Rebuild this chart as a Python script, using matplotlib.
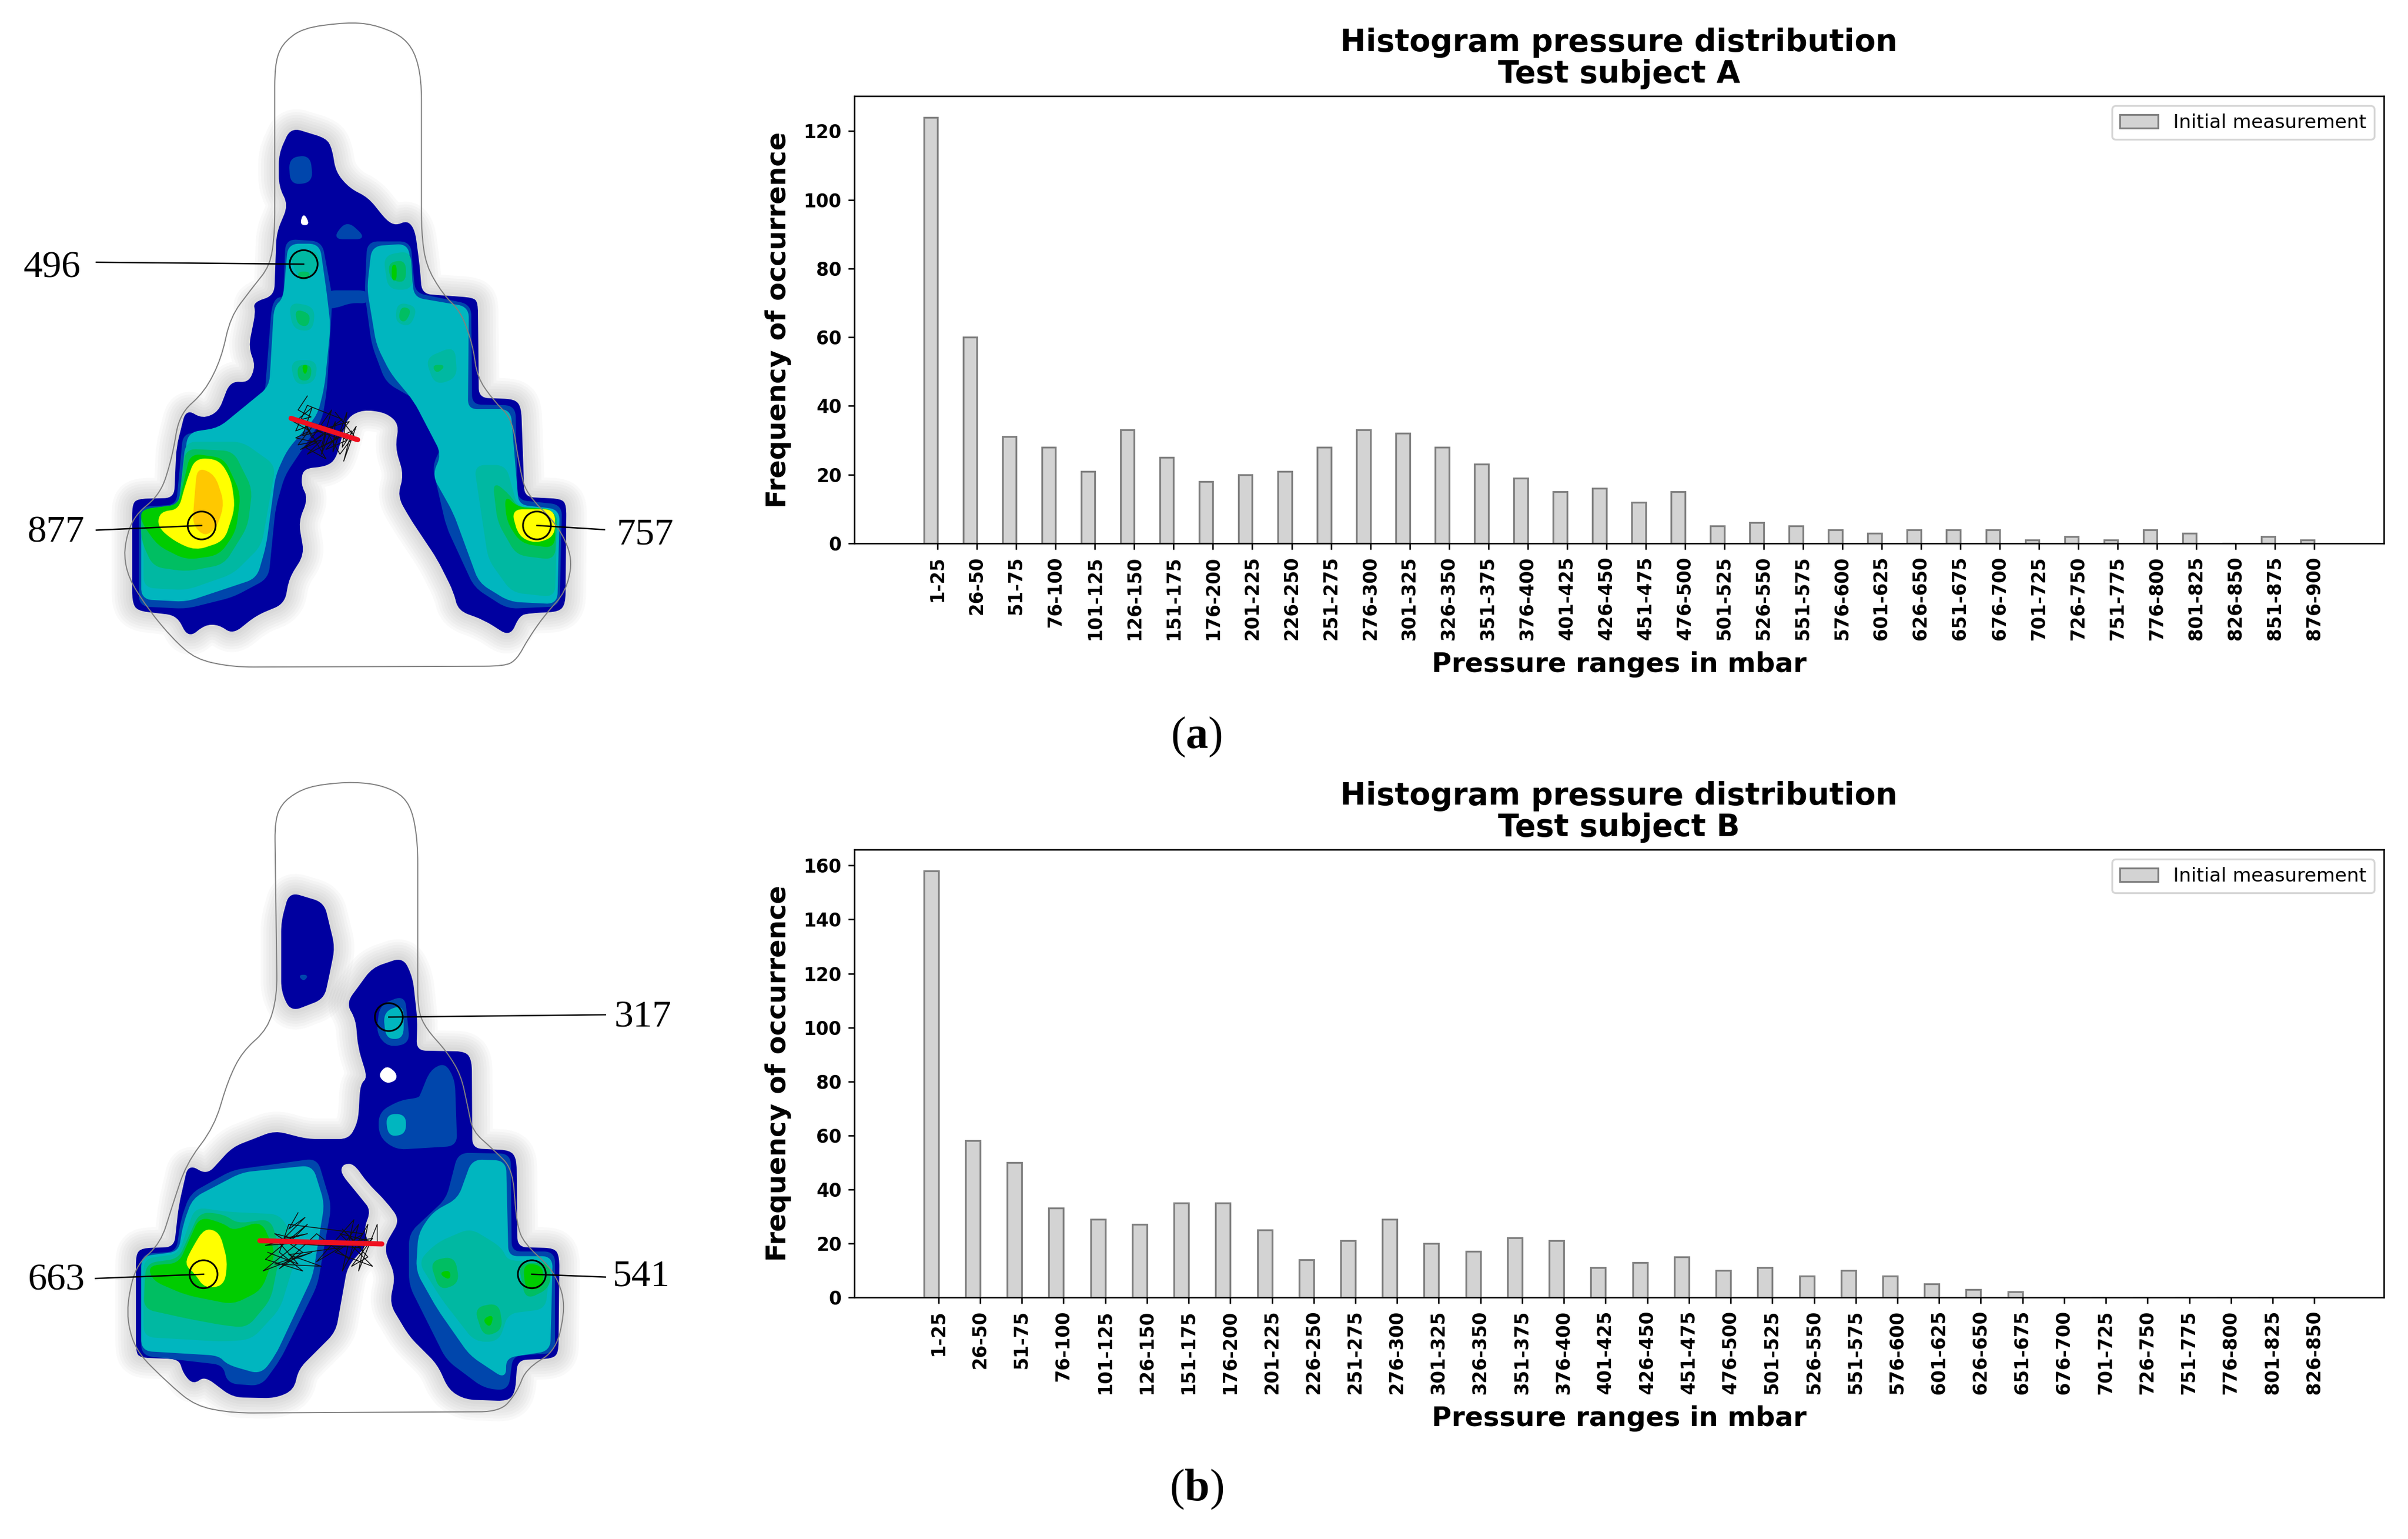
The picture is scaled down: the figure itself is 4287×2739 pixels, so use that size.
import matplotlib
matplotlib.use('Agg')
import matplotlib.pyplot as plt
from matplotlib.patches import PathPatch, Circle
from matplotlib.path import Path
from math import hypot

# histogram data
labels_a = ['1-25', '26-50', '51-75', '76-100', '101-125', '126-150', '151-175', '176-200', '201-225',
            '226-250', '251-275', '276-300', '301-325', '326-350', '351-375', '376-400', '401-425',
            '426-450', '451-475', '476-500', '501-525', '526-550', '551-575', '576-600', '601-625',
            '626-650', '651-675', '676-700', '701-725', '726-750', '751-775', '776-800', '801-825',
            '826-850', '851-875', '876-900']
counts_a = [124, 60, 31, 28, 21, 33, 25, 18, 20, 21, 28, 33, 32, 28, 23, 19, 15, 16, 12, 15, 5, 6, 5, 4, 3,
            4, 4, 4, 1, 2, 1, 4, 3, 0, 2, 1]
labels_b = labels_a[:34]
counts_b = [158, 58, 50, 33, 29, 27, 35, 35, 25, 14, 21, 29, 20, 17, 22, 21, 11, 13, 15, 10, 11, 8, 10, 8, 5,
            3, 2, 0, 0, 0, 0, 0, 0, 0]

# pressure map colours, low to high
DARK = '#0000a0'
BLUE = '#0046ac'
TEAL = '#00b6bf'
TEAL2 = '#00b8a2'
GREEN1 = '#00be62'
GREEN2 = '#00cc00'
YELLOW = '#ffff00'
ORANGE = '#ffc800'

# map A shapes, in crop coordinates
outline_a = [(745, 48), (800, 52), (860, 75), (890, 110), (905, 170), (905, 500), (915, 570), (950, 630),
             (990, 670), (1015, 740), (1025, 810), (1060, 860), (1100, 900), (1115, 1000), (1130, 1060),
             (1200, 1130), (1230, 1200), (1215, 1270), (1170, 1320), (1135, 1370), (1110, 1415), (1085, 1430),
             (500, 1432), (420, 1415), (370, 1370), (320, 1310), (275, 1240), (265, 1180), (285, 1110),
             (345, 1060), (370, 980), (385, 890), (440, 840), (475, 770), (495, 680), (540, 620), (580, 570),
             (590, 500), (590, 140), (605, 95), (650, 60)]
dark_a = [(625, 275), (700, 298), (712, 320), (720, 370), (750, 405), (790, 425), (830, 475), (850, 485),
          (875, 475), (890, 495), (900, 570), (905, 632), (1015, 640), (1025, 650), (1027, 855), (1105, 858),
          (1118, 875), (1125, 1068), (1205, 1072), (1215, 1085), (1213, 1295), (1200, 1312), (1140, 1315),
          (1115, 1320), (1095, 1365), (1040, 1330), (985, 1310), (975, 1270), (940, 1200), (880, 1110),
          (855, 1065), (868, 1020), (850, 960), (858, 910), (830, 885), (780, 878), (745, 895), (720, 985),
          (700, 1000), (650, 1005), (645, 1040), (660, 1070), (640, 1120), (652, 1190), (620, 1240), (610, 1295),
          (550, 1320), (500, 1360), (470, 1340), (440, 1340), (405, 1368), (380, 1320), (295, 1310), (285, 1290),
          (285, 1085), (295, 1072), (375, 1070), (380, 960), (400, 880), (435, 900), (470, 885), (495, 820),
          (535, 822), (550, 785), (535, 745), (550, 670), (545, 650), (590, 635), (595, 500), (620, 440),
          (600, 400), (600, 330)]
holes_a = [[(652, 458), (664, 482), (645, 482)]]
blue_a = [[(615, 515), (690, 520), (705, 600), (712, 640), (700, 840), (690, 900), (640, 975), (610, 1020),
           (590, 1090), (575, 1240), (500, 1280), (400, 1305), (300, 1300), (300, 1090), (380, 1085), (395, 930),
           (460, 935), (570, 850), (585, 660), (595, 640), (610, 640)],
          [(790, 520), (880, 520), (890, 630), (1010, 655), (1012, 870), (1105, 872), (1110, 1075), (1205, 1085),
           (1200, 1300), (1090, 1305), (1020, 1260), (960, 1130), (930, 1000), (950, 960), (900, 860), (830, 820),
           (800, 740), (785, 630)],
          [(700, 625), (790, 625), (790, 650), (755, 648), (720, 660), (700, 660)],
          [(622, 340), (665, 335), (670, 390), (625, 395)],
          [(716, 512), (745, 475), (785, 512)]]
teal_a = [[(620, 525), (685, 525), (700, 630), (708, 700), (695, 830), (680, 890), (615, 965), (590, 1020),
           (570, 1170), (550, 1240), (400, 1290), (305, 1285), (305, 1100), (385, 1090), (405, 930), (470, 920),
           (580, 830), (590, 660), (610, 640)],
          [(800, 530), (875, 525), (888, 640), (1005, 660), (1003, 880), (1095, 880), (1112, 1085), (1200, 1095),
           (1195, 1295), (1095, 1290), (1030, 1250), (975, 1100), (930, 1020), (950, 975), (890, 860), (840, 800),
           (810, 740), (790, 620)]]
teal2_a = [[(400, 950), (520, 950), (590, 1000), (560, 1170), (500, 1230), (400, 1265), (310, 1260), (310, 1100), (385, 1090)],
           [(1020, 1000), (1085, 1000), (1110, 1090), (1195, 1100), (1190, 1280), (1100, 1270), (1050, 1200)],
           [(622, 540), (685, 540), (680, 590), (640, 595)],
           [(622, 650), (675, 660), (670, 710), (630, 705)],
           [(625, 775), (680, 775), (675, 820), (635, 825)],
           [(825, 550), (880, 540), (885, 620), (835, 620)],
           [(855, 650), (895, 660), (880, 700), (850, 690)],
           [(915, 770), (975, 745), (980, 810), (935, 825)]]
green1_a = [[(400, 965), (500, 970), (540, 1050), (530, 1130), (480, 1210), (400, 1225), (330, 1215), (305, 1160), (305, 1095), (385, 1085)],
            [(1060, 1035), (1095, 1065), (1110, 1090), (1195, 1100), (1190, 1200), (1110, 1190), (1070, 1120)],
            [(640, 585), (665, 585), (660, 598), (645, 598)],
            [(635, 665), (665, 675), (660, 700), (640, 695)],
            [(640, 785), (668, 785), (665, 815), (642, 815)],
            [(835, 565), (870, 560), (870, 605), (840, 600)],
            [(862, 660), (882, 665), (870, 690), (858, 685)],
            [(930, 785), (955, 785), (938, 800)]]
green2_a = [[(410, 975), (480, 985), (515, 1060), (505, 1140), (470, 1190), (400, 1200), (340, 1170), (305, 1120), (305, 1095), (385, 1085)],
            [(1085, 1065), (1110, 1090), (1190, 1095), (1190, 1175), (1120, 1165), (1090, 1120)],
            [(843, 570), (850, 570), (850, 600), (843, 600)],
            [(650, 785), (660, 785), (655, 805)]]
yellow_a = [[(420, 985), (470, 988), (495, 1030), (503, 1090), (480, 1160), (420, 1180), (375, 1160), (340, 1130), (345, 1100), (385, 1095), (400, 1040)],
            [(1100, 1095), (1190, 1095), (1190, 1150), (1150, 1165), (1115, 1150)]]
orange_a = [[(425, 1005), (460, 1020), (480, 1080), (465, 1130), (440, 1150), (415, 1125), (420, 1060)]]
track_a = [(660, 850), (640, 880), (668, 895), (630, 905), (665, 925), (635, 940), (680, 950), (645, 965), (700, 930),
           (690, 975), (720, 905), (715, 970), (745, 885), (735, 960), (765, 915), (738, 990), (755, 925), (690, 960),
           (712, 880), (670, 940), (650, 900), (700, 985), (655, 960), (735, 900), (660, 870), (635, 925), (675, 910),
           (640, 955), (690, 945), (660, 975), (725, 940), (680, 925), (750, 905), (700, 965), (745, 945), (710, 920),
           (650, 935), (670, 875), (640, 900), (695, 915), (730, 975), (760, 935), (720, 885)]
red_a = [(625, 898), (768, 944)]

# map B shapes, in crop coordinates
outline_b = [(745, 50), (810, 55), (860, 75), (885, 110), (897, 180), (897, 540), (915, 580), (960, 630), (990, 680),
             (1005, 750), (1015, 800), (1060, 840), (1100, 880), (1110, 1000), (1125, 1040), (1190, 1100), (1215, 1170),
             (1195, 1270), (1130, 1310), (1110, 1360), (1075, 1402), (500, 1405), (420, 1390), (360, 1340), (290, 1270),
             (270, 1190), (290, 1090), (345, 1040), (370, 960), (400, 870), (460, 790), (490, 690), (520, 630), (575, 580),
             (595, 510), (590, 130), (610, 90), (660, 60)]
dark_b1 = [(622, 288), (695, 310), (718, 405), (705, 470), (695, 515), (625, 542), (605, 500), (605, 350)]
dark_b2 = [(865, 428), (885, 470), (895, 560), (893, 628), (1000, 630), (1012, 650), (1013, 838), (1095, 842), (1108, 860),
           (1110, 1050), (1190, 1052), (1200, 1070), (1198, 1275), (1185, 1287), (1110, 1290), (1105, 1360), (1090, 1378),
           (1000, 1375), (965, 1355), (940, 1300), (880, 1240), (838, 1170), (850, 1110), (825, 1050), (860, 990), (830, 950),
           (790, 910), (760, 868), (735, 870), (730, 890), (775, 945), (795, 970), (780, 1010), (790, 1040), (745, 1090),
           (720, 1230), (640, 1310), (630, 1355), (590, 1372), (500, 1370), (440, 1325), (415, 1342), (395, 1320), (385, 1288),
           (300, 1285), (293, 1270), (293, 1065), (305, 1052), (375, 1050), (385, 960), (405, 872), (445, 895), (500, 835),
           (590, 800), (660, 818), (750, 818), (770, 780), (775, 700), (790, 685), (770, 620), (765, 560), (745, 525), (800, 450)]
holes_b = [[(830, 660), (850, 675), (850, 690), (830, 697), (813, 680)]]
blue_b = [[(817, 530), (868, 510), (878, 610), (835, 618), (810, 590)],
          [(905, 720), (925, 670), (955, 655), (975, 690), (980, 830), (850, 838), (815, 810), (815, 760), (860, 735), (900, 730)],
          [(410, 935), (500, 885), (680, 860), (710, 960), (680, 1130), (600, 1290), (560, 1345), (490, 1340), (480, 1300), (305, 1280), (305, 1065), (380, 1060), (390, 990)],
          [(985, 848), (1095, 850), (1097, 1060), (1190, 1060), (1190, 1275), (1100, 1280), (1090, 1355), (1040, 1350), (960, 1290), (880, 1130), (880, 1020), (960, 945)],
          [(643, 466), (660, 466), (652, 476)]]
teal_b = [[(825, 545), (865, 530), (865, 600), (830, 600)],
          [(830, 765), (870, 765), (870, 805), (835, 810)],
          [(415, 945), (520, 890), (670, 875), (695, 955), (670, 1110), (590, 1280), (560, 1320), (490, 1300), (470, 1280), (305, 1270), (305, 1070), (385, 1060), (395, 1000)],
          [(1015, 862), (1085, 865), (1090, 1070), (1185, 1070), (1180, 1270), (1085, 1285), (1085, 1330), (1010, 1280), (940, 1180), (895, 1100), (900, 1020), (930, 975), (985, 945)]]
teal2_b = [[(420, 965), (490, 975), (600, 980), (640, 1050), (600, 1180), (540, 1245), (480, 1250), (310, 1240), (310, 1075), (385, 1065)],
           [(940, 1040), (1010, 1010), (1075, 1050), (1090, 1080), (1180, 1080), (1170, 1180), (1090, 1190), (1070, 1250), (1020, 1250), (950, 1160), (900, 1080)]]
green1_b = [[(430, 975), (480, 980), (510, 1000), (580, 990), (600, 1060), (580, 1160), (530, 1220), (480, 1215), (400, 1200), (310, 1180), (315, 1085), (385, 1075)],
            [(925, 1080), (975, 1070), (985, 1125), (945, 1140)],
            [(1020, 1180), (1070, 1170), (1078, 1225), (1040, 1240)],
            [(1115, 1085), (1180, 1085), (1180, 1135), (1130, 1160)]]
green2_b = [[(430, 985), (480, 1000), (500, 1015), (560, 995), (590, 1060), (560, 1140), (500, 1170), (400, 1150), (330, 1120), (320, 1090), (385, 1085)],
            [(1125, 1085), (1165, 1090), (1165, 1135), (1130, 1140)],
            [(945, 1105), (965, 1100), (965, 1118)],
            [(1038, 1205), (1058, 1195), (1052, 1220)]]
yellow_b = [[(440, 1010), (470, 1018), (487, 1080), (480, 1130), (440, 1135), (420, 1105), (398, 1085), (415, 1050)]]
track_b = [(640, 975), (620, 1010), (655, 985), (610, 1030), (660, 1020), (570, 1045), (640, 1040), (565, 1100), (670, 1060),
           (590, 1085), (690, 1090), (620, 1065), (730, 1050), (680, 1080), (760, 990), (735, 1100), (790, 1000), (770, 1100),
           (810, 1000), (810, 1040), (730, 1020), (800, 1090), (720, 1060), (780, 1020), (620, 1000), (600, 1060), (650, 1100),
           (570, 1075), (660, 1000), (630, 1030), (590, 1020), (650, 1060), (600, 1095), (680, 1020), (750, 1075), (770, 1000),
           (740, 1040), (800, 1030), (755, 1090), (790, 1070), (735, 1010), (775, 1050), (600, 1040), (640, 1085), (575, 1060)]
red_b = [(558, 1035), (820, 1042)]

# callouts: value, text position, circle centre, leader end
callouts_a = [('496', (112, 575), (652, 567), (207, 563)),
              ('877', (120, 1144), (433, 1128), (207, 1138)),
              ('757', (1385, 1148), (1153, 1128), (1298, 1137))]
callouts_b = [('317', (1380, 556), (835, 555), (1300, 550)),
              ('663', (120, 1121), (437, 1107), (205, 1116)),
              ('541', (1378, 1112), (1142, 1107), (1300, 1113))]

W, H, DPI = 4287, 2739, 234
plt.rcParams['mathtext.fontset'] = 'custom'
plt.rcParams['mathtext.rm'] = 'Liberation Serif'
plt.rcParams['mathtext.bf'] = 'Liberation Serif:bold'


def px(v):
    # pixels to points
    return v * 72 / DPI


def rounded(poly, r=22):
    # closed path with the corners cut by quadratic curves of about radius r
    verts = []
    codes = []
    n = len(poly)
    for i in range(n):
        vx, vy = poly[i]
        ax_, ay_ = poly[i - 1]
        bx_, by_ = poly[(i + 1) % n]
        fa = min(0.45, r / max(hypot(ax_ - vx, ay_ - vy), 1))
        fb = min(0.45, r / max(hypot(bx_ - vx, by_ - vy), 1))
        verts.append((vx + (ax_ - vx) * fa, vy + (ay_ - vy) * fa))
        codes.append(Path.MOVETO if i == 0 else Path.LINETO)
        verts += [(vx, vy), (vx + (bx_ - vx) * fb, vy + (by_ - vy) * fb)]
        codes += [Path.CURVE3, Path.CURVE3]
    verts.append(verts[0])
    codes.append(Path.CLOSEPOLY)
    return Path(verts, codes)


def draw_map(y0, outline, outer, layers, holes, track, red, callouts):
    ax = fig.add_axes([0, 1 - (y0 + 1300) / H, 1300 / W, 1300 / H])
    ax.set_xlim(0, 1568)
    ax.set_ylim(1568, 0)
    ax.axis('off')
    # soft grey halo around the sensor area
    for lw in [75, 65, 55, 45, 35, 25, 15]:
        for poly in outer:
            ax.add_patch(PathPatch(rounded(poly), fill=False, edgecolor='#707070', alpha=0.04,
                                   lw=px(lw), joinstyle='round'))
    for poly in outer:
        ax.add_patch(PathPatch(rounded(poly), fc=DARK, ec=DARK, lw=px(2), joinstyle='round'))
    for poly in holes:
        ax.add_patch(PathPatch(rounded(poly), fc='white', ec='white', lw=px(2), joinstyle='round'))
    for color, polys in layers:
        for poly in polys:
            ax.add_patch(PathPatch(rounded(poly), fc=color, ec=color, lw=px(3), joinstyle='round'))
    ax.add_patch(PathPatch(rounded(outline, 45), fill=False, edgecolor='#808080', lw=px(2)))
    ax.plot(*zip(*track), color='#101010', lw=px(1.5), zorder=5)
    ax.plot(*zip(*red), color='#f01020', lw=px(9), solid_capstyle='round', zorder=6)
    for value, text_pos, centre, leader in callouts:
        ax.plot([leader[0], centre[0]], [leader[1], centre[1]], color='black', lw=px(2.5), zorder=7)
        ax.add_patch(Circle(centre, 30, fill=False, edgecolor='black', lw=px(3), zorder=7))
        ax.text(text_pos[0], text_pos[1], value, family='Liberation Serif', fontsize=px(68),
                ha='center', va='center', color='black')


def draw_hist(top, bottom, labels, counts, title):
    ax = fig.add_axes([1521 / W, 1 - bottom / H, (4244 - 1521) / W, (bottom - top) / H])
    x = list(range(len(counts)))
    # ticks sit on the right edge of the bars
    ax.bar(x, counts, width=-0.35, align='edge', color='lightgray', edgecolor='gray',
           label='Initial measurement')
    ax.set_xticks(x)
    ax.set_xticklabels(labels, rotation=90, fontweight='bold', fontsize=10)
    for t in ax.get_yticklabels():
        t.set_fontweight('bold')
    ax.set_xlabel('Pressure ranges in mbar', fontweight='bold', fontsize=14.8, labelpad=6)
    ax.set_ylabel('Frequency of occurrence', fontweight='bold', fontsize=14.8, labelpad=6.5)
    ax.set_title(title, fontweight='bold', fontsize=16.8, pad=7.5, linespacing=1.05)
    ax.legend(loc='upper right', fontsize=10.5)


fig = plt.figure(figsize=(W / DPI, H / DPI), dpi=DPI)

draw_map(0, outline_a, [dark_a],
         [(BLUE, blue_a), (TEAL, teal_a), (TEAL2, teal2_a), (GREEN1, green1_a), (GREEN2, green2_a),
          (YELLOW, yellow_a), (ORANGE, orange_a)],
         holes_a, track_a, red_a, callouts_a)
draw_map(1350, outline_b, [dark_b1, dark_b2],
         [(BLUE, blue_b), (TEAL, teal_b), (TEAL2, teal2_b), (GREEN1, green1_b), (GREEN2, green2_b),
          (YELLOW, yellow_b)],
         holes_b, track_b, red_b, callouts_b)

draw_hist(171, 967, labels_a, counts_a, 'Histogram pressure distribution\nTest subject A')
draw_hist(1512, 2309, labels_b, counts_b, 'Histogram pressure distribution\nTest subject B')

fig.text(2130 / W, 1 - 1312 / H, r'($\mathbf{a}$)', family='Liberation Serif', fontsize=px(80), ha='center', va='center')
fig.text(2130 / W, 1 - 2651 / H, r'($\mathbf{b}$)', family='Liberation Serif', fontsize=px(80), ha='center', va='center')

fig.savefig('out.png', dpi=DPI)
